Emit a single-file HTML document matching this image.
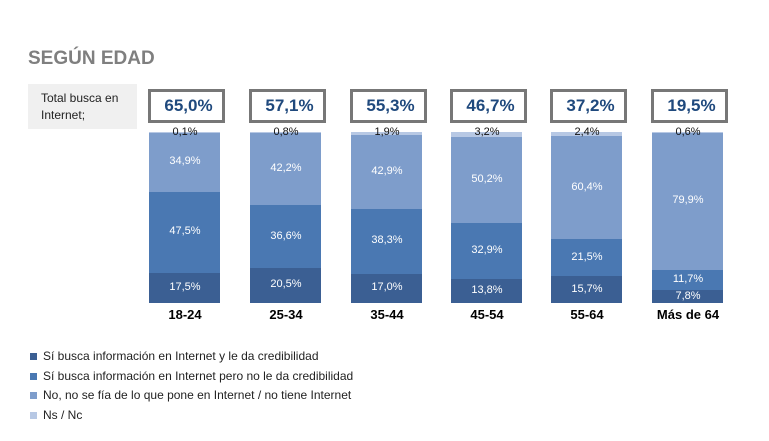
<!DOCTYPE html><html><head><meta charset="utf-8"><style>
body{margin:0;width:769px;height:441px;background:#fff;position:relative;overflow:hidden;font-family:"Liberation Sans",sans-serif}
.a{position:absolute}
.t{position:absolute;width:72px;text-align:center;font-size:11px}
</style></head><body>
<div class="a" style="left:28px;top:48px;font-size:19px;font-weight:bold;color:#7f7f7f">SEGÚN EDAD</div>
<div class="a" style="left:28px;top:84px;width:109px;height:45px;background:#f0f0f0"></div>
<div class="a" style="left:41px;top:90px;font-size:12px;line-height:17px;color:#222">Total busca en<br>Internet;</div>
<div id="c"></div>
<div class="a" style="left:30px;top:347px;font-size:12px;line-height:19.5px;color:#222">
<div><span style="display:inline-block;width:7px;height:7px;background:#3b5f93;margin-right:6px"></span>Sí busca información en Internet y le da credibilidad</div>
<div><span style="display:inline-block;width:7px;height:7px;background:#4a78b2;margin-right:6px"></span>Sí busca información en Internet pero no le da credibilidad</div>
<div><span style="display:inline-block;width:7px;height:7px;background:#7e9dcb;margin-right:6px"></span>No, no se fía de lo que pone en Internet / no tiene Internet</div>
<div><span style="display:inline-block;width:7px;height:7px;background:#b7c8e4;margin-right:6px"></span>Ns / Nc</div>
</div>
<script>
var d=[["18-24","65,0%",[17.5,47.5,34.9,0.1]],["25-34","57,1%",[20.5,36.6,42.2,0.8]],["35-44","55,3%",[17.0,38.3,42.9,1.9]],["45-54","46,7%",[13.8,32.9,50.2,3.2]],["55-64","37,2%",[15.7,21.5,60.4,2.4]],["Más de 64","19,5%",[7.8,11.7,79.9,0.6]]];
var xs=[149,250,351,451,551,652],col=["#3b5f93","#4a78b2","#7e9dcb","#b7c8e4"],h="";
d.forEach(function(b,i){var x=xs[i],s=b[2].reduce(function(a,c){return a+c}),y=303;
h+='<div class="a" style="left:'+(x-1)+'px;top:89px;width:67px;height:28px;border:3px solid #777;background:#fff;text-align:center;line-height:28px;font-size:17px;font-weight:bold;color:#1f497d;padding-left:4px">'+b[1]+'</div>';
b[2].forEach(function(v,j){var hh=v/s*171;y-=hh;
h+='<div class="a" style="left:'+x+'px;top:'+y+'px;width:71px;height:'+hh+'px;background:'+col[j]+'"></div>';
var ty=j==3?126:y+hh/2-7;if(j==0&&hh<18)ty=y+hh-13;
h+='<div class="t" style="left:'+x+'px;top:'+ty+'px;color:'+(j==3?'#111':'#fff')+'">'+String(v.toFixed(1)).replace(".",",")+'%</div>';});
h+='<div class="t" style="left:'+(x-10)+'px;width:92px;top:307px;font-size:13px;font-weight:bold;color:#000">'+b[0]+'</div>';});
document.getElementById("c").innerHTML=h;
</script>
</body></html>
